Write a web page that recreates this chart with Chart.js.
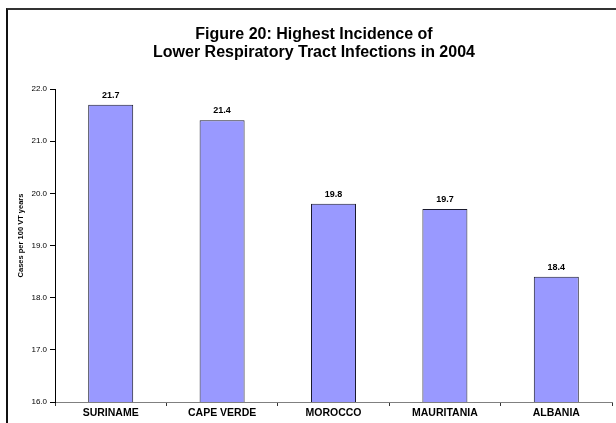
<!DOCTYPE html>
<html>
<head>
<meta charset="utf-8">
<script src="https://cdn.jsdelivr.net/npm/chart.js@4/dist/chart.umd.min.js"></script>
<style>
  html, body { margin: 0; padding: 0; background: #fff; overflow: hidden; }
  #wrap { position: relative; width: 616px; height: 423px; overflow: hidden; }
  #frame { position: absolute; left: 6px; top: 8px; width: 700px; height: 500px; border-left: 2px solid #111; border-top: 2px solid #333; }
  canvas { position: absolute; left: 0; top: 0; }
</style>
</head>
<body>
<div id="wrap">
  <div id="frame"></div>
  <canvas id="c" width="616" height="423"></canvas>
</div>
<script>
const titleLines = ["Figure 20: Highest Incidence of", "Lower Respiratory Tract Infections in 2004"];
const categories = ["SURINAME", "CAPE VERDE", "MOROCCO", "MAURITANIA", "ALBANIA"];
const values = [21.7, 21.4, 19.8, 19.7, 18.4];
const yAxisTitle = "Cases per 100 VT years";
const yMin = 16.0, yMax = 22.0, yStep = 1.0;

const FONT = "'Liberation Sans', Arial, Helvetica, sans-serif";

const valueLabels = {
  id: 'valueLabels',
  afterDatasetsDraw(chart) {
    const ctx = chart.ctx;
    const meta = chart.getDatasetMeta(0);
    ctx.save();
    ctx.font = "bold 9px " + FONT;
    ctx.fillStyle = '#000';
    ctx.textAlign = 'center';
    ctx.textBaseline = 'alphabetic';
    meta.data.forEach((bar, i) => {
      ctx.fillText(values[i].toFixed(1), bar.x, bar.y - 7);
    });
    ctx.restore();
  }
};

// y-axis title, placed slightly above the plot's vertical centre as in the reference
const yTitle = {
  id: 'yTitle',
  afterDraw(chart) {
    const ctx = chart.ctx;
    const area = chart.chartArea;
    ctx.save();
    ctx.font = "bold 7.5px " + FONT;
    ctx.fillStyle = '#000';
    ctx.textAlign = 'center';
    ctx.textBaseline = 'middle';
    ctx.translate(21, (area.top + area.bottom) / 2 - 10);
    ctx.rotate(-Math.PI / 2);
    ctx.fillText(yAxisTitle, 0, 0);
    ctx.restore();
  }
};

new Chart(document.getElementById('c'), {
  type: 'bar',
  data: {
    labels: categories,
    datasets: [{
      data: values,
      backgroundColor: '#9999FF',
      borderColor: '#1a1a2e',
      borderWidth: 1,
      categoryPercentage: 1.0,
      barPercentage: 0.404
    }]
  },
  options: {
    responsive: false,
    devicePixelRatio: 1,
    animation: false,
    layout: { padding: { left: 16, right: 4, top: 0, bottom: 0 } },
    plugins: {
      legend: { display: false },
      tooltip: { enabled: false },
      title: {
        display: true,
        text: titleLines,
        color: '#000',
        font: { family: FONT, size: 16, weight: 'bold', lineHeight: 1.15 },
        padding: { top: 25, bottom: 27.2 }
      }
    },
    scales: {
      x: {
        grid: { display: true, drawOnChartArea: false, drawTicks: true, tickLength: 4, tickColor: '#333', offset: true },
        border: { display: true, color: '#808080', width: 1 },
        ticks: { color: '#000', font: { family: FONT, size: 10.5, weight: 'bold' }, padding: 1, maxRotation: 0, autoSkip: false },
        afterFit(scale) { scale.height = 21; }
      },
      y: {
        min: yMin,
        max: yMax,
        grid: { display: true, drawOnChartArea: false, drawTicks: true, tickLength: 5, tickColor: '#000' },
        border: { display: true, color: '#000', width: 1 },
        ticks: {
          stepSize: yStep,
          color: '#000',
          font: { family: FONT, size: 8 },
          padding: 3,
          callback: v => Number(v).toFixed(1)
        },
        afterFit(scale) { scale.width = 39; }
      }
    }
  },
  plugins: [valueLabels, yTitle]
});
</script>
</body>
</html>
